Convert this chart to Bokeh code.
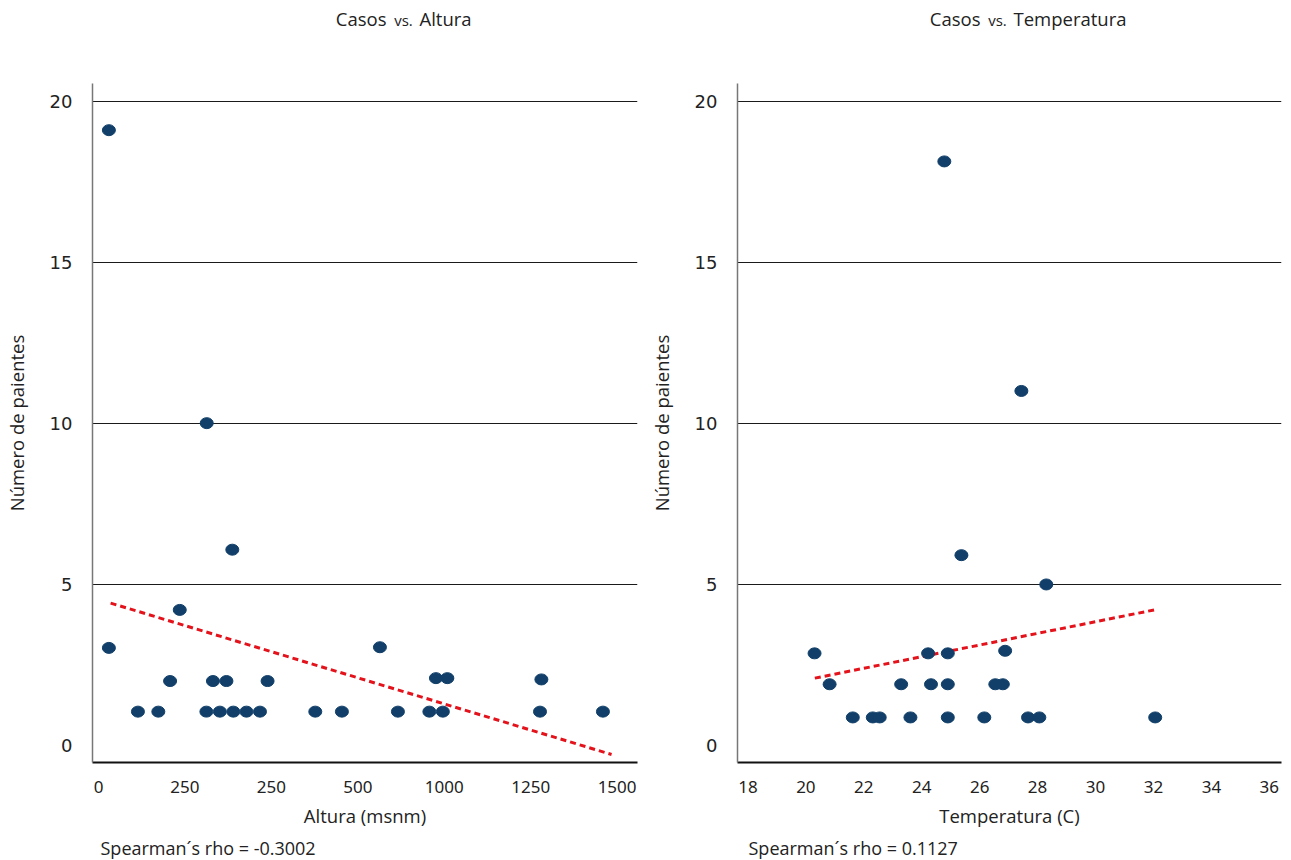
from bokeh.plotting import figure
from bokeh.layouts import row, column
from bokeh.models import FixedTicker, Range1d
from bokeh.core.properties import value
from bokeh.embed import file_html
from bokeh.resources import INLINE

# ---------------- data ----------------
alt_x = [30, 30, 114, 173, 207, 235, 312, 313, 331, 351, 370, 387, 390, 428, 467, 489,
         627, 704, 814, 866, 957, 976, 996, 1009, 1277, 1281, 1459]
alt_y = [19.1, 3.02, 1.04, 1.04, 1.99, 4.2, 1.04, 10.0, 1.99, 1.04, 1.99, 6.07, 1.04, 1.04,
         1.04, 1.99, 1.04, 1.04, 3.04, 1.04, 1.04, 2.08, 1.04, 2.08, 1.04, 2.04, 1.04]
alt_fit_x = [35, 1484]
alt_fit_y = [4.41, -0.29]
alt_ticks = [0, 250, 500, 750, 1000, 1250, 1500]
alt_tick_labels = ["0", "250", "250", "500", "1000", "1250", "1500"]

temp_x = [24.78, 27.44, 25.37, 28.30, 20.30, 24.22, 24.90, 26.88, 20.82, 23.29, 24.32,
          24.90, 26.54, 26.80, 21.62, 22.31, 22.55, 23.61, 24.90, 26.16, 27.67, 28.06, 32.06]
temp_y = [18.13, 11.0, 5.9, 4.99, 2.85, 2.85, 2.85, 2.93, 1.89, 1.89, 1.89, 1.89, 1.89,
          1.89, 0.86, 0.86, 0.86, 0.86, 0.86, 0.86, 0.86, 0.86, 0.86]
temp_fit_x = [20.31, 32.03]
temp_fit_y = [2.08, 4.20]
temp_ticks = [18, 20, 22, 24, 26, 28, 30, 32, 34, 36]

y_ticks = [0, 5, 10, 15, 20]
grid_ticks = [5, 10, 15, 20]

title_parts = [("Casos", "vs.", "Altura"), ("Casos", "vs.", "Temperatura")]
x_labels = ["Altura (msnm)", "Temperatura (C)"]
y_label = "Número de paientes"
rho_texts = ["Spearman\u00b4s rho = -0.3002", "Spearman\u00b4s rho = 0.1127"]

POINT = "#113f69"
RED = "#e3121b"
TXT = "#222222"
LBL_FONT = "Open Sans"

W_LEFT, W_RIGHT = 645, 646
H_TOP, H_MAIN, H_BOT = 40, 790, 30


def strip(width, height):
    s = figure(width=width, height=height, output_backend="svg", toolbar_location=None,
               x_range=Range1d(0, width), y_range=Range1d(0, height),
               x_axis_location=None, y_axis_location=None, min_border=0)
    s.outline_line_color = None
    s.xgrid.visible = False
    s.ygrid.visible = False
    return s


def title_strip(width, parts, anchors):
    s = strip(width, H_TOP)
    cy = H_TOP - 18
    s.text(x=[anchors[0]], y=[cy], text=[parts[0]], text_align="right",
           text_baseline="middle", text_font=value(LBL_FONT),
           text_font_size=value("18.5px"), text_color=TXT)
    s.text(x=[anchors[1]], y=[cy - 1], text=[parts[1]], text_align="center",
           text_baseline="middle", text_font=value(LBL_FONT),
           text_font_size=value("15px"), text_color=TXT)
    s.text(x=[anchors[2]], y=[cy], text=[parts[2]], text_align="left",
           text_baseline="middle", text_font=value(LBL_FONT),
           text_font_size=value("18.5px"), text_color=TXT)
    return s


def rho_strip(width, text, x0):
    s = strip(width, H_BOT)
    s.text(x=[x0], y=[13], text=[text], text_align="left", text_baseline="middle",
           text_font=value(LBL_FONT), text_font_size=value("18px"), text_color=TXT)
    return s


def make(xs, ys, fx, fy, xr, ticks, labels, xlabel, width, br):
    p = figure(width=width, height=H_MAIN, output_backend="svg", toolbar_location=None,
               x_range=Range1d(*xr), y_range=Range1d(-0.54, 20.55),
               min_border_left=92, min_border_right=br,
               min_border_top=43, min_border_bottom=68)
    p.outline_line_color = None

    p.xgrid.visible = False
    p.ygrid.ticker = FixedTicker(ticks=grid_ticks)
    p.ygrid.grid_line_color = "#1a1a1a"
    p.ygrid.grid_line_width = 1

    xa = p.xaxis[0]
    xa.ticker = FixedTicker(ticks=ticks)
    if labels is not None:
        xa.major_label_overrides = {t: l for t, l in zip(ticks, labels)}
    xa.major_tick_line_color = None
    xa.minor_tick_line_color = None
    xa.major_tick_out = 0
    xa.major_tick_in = 0
    xa.minor_tick_out = 0
    xa.axis_line_color = "#111111"
    xa.axis_line_width = 2
    xa.major_label_standoff = 18
    xa.major_label_text_font = "Noto Sans"
    xa.major_label_text_font_size = "17px"
    xa.major_label_text_color = TXT
    xa.axis_label = xlabel
    xa.axis_label_text_font = LBL_FONT
    xa.axis_label_text_font_size = "18.5px"
    xa.axis_label_text_font_style = "normal"
    xa.axis_label_text_color = TXT
    xa.axis_label_standoff = 7

    ya = p.yaxis[0]
    ya.ticker = FixedTicker(ticks=y_ticks)
    ya.major_tick_line_color = None
    ya.minor_tick_line_color = None
    ya.major_tick_out = 0
    ya.major_tick_in = 0
    ya.minor_tick_out = 0
    ya.axis_line_color = "#777777"
    ya.axis_line_width = 1.5
    ya.major_label_standoff = 20
    ya.major_label_text_font = "DejaVu Sans"
    ya.major_label_text_font_size = "18px"
    ya.major_label_text_color = TXT
    ya.axis_label = y_label
    ya.axis_label_text_font = LBL_FONT
    ya.axis_label_text_font_size = "18.5px"
    ya.axis_label_text_font_style = "normal"
    ya.axis_label_text_color = TXT
    ya.axis_label_standoff = 18

    p.line(fx, fy, line_color=RED, line_width=3, line_dash="6 4")
    p.ellipse(x=xs, y=ys, width=13, height=11, width_units="screen", height_units="screen",
              fill_color=POINT, line_color=POINT)
    return p


p1 = make(alt_x, alt_y, alt_fit_x, alt_fit_y, (-17.4, 1559), alt_ticks,
          alt_tick_labels, x_labels[0], W_LEFT, 8)
p2 = make(temp_x, temp_y, temp_fit_x, temp_fit_y, (17.64, 36.42), temp_ticks,
          None, x_labels[1], W_RIGHT, 10)

t1 = title_strip(W_LEFT, title_parts[0], (386, 403, 419))
t2 = title_strip(W_RIGHT, title_parts[1], (335, 352, 368))
b1 = rho_strip(W_LEFT, rho_texts[0], 100)
b2 = rho_strip(W_RIGHT, rho_texts[1], 103)

layout = column(row(t1, t2), row(p1, p2), row(b1, b2))
open("out.html", "w").write(file_html(layout, INLINE))
